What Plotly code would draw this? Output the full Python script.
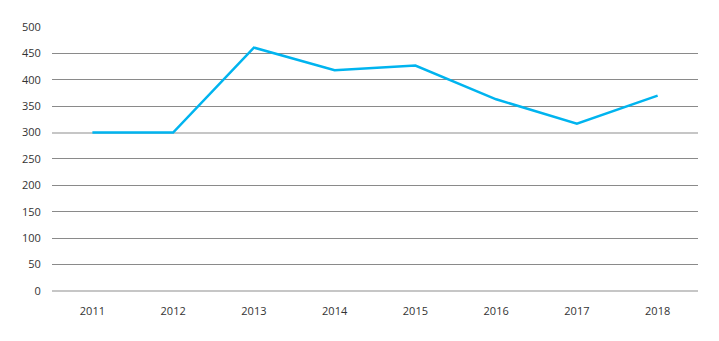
import plotly.graph_objects as go

years = ["2011", "2012", "2013", "2014", "2015", "2016", "2017", "2018"]
values = [300, 300, 461, 418, 427, 363, 317, 370]
y_ticks = [0, 50, 100, 150, 200, 250, 300, 350, 400, 450, 500]
light_lines = [0, 300]
y_range = [-2, 500]

fig = go.Figure()
# helper trace (invisible) so the overlay axis with the light reference lines is drawn
fig.add_trace(go.Scatter(
    x=years, y=values, mode="lines", yaxis="y2",
    line=dict(color="rgba(0,0,0,0)", width=0),
    hoverinfo="skip", showlegend=False,
))
fig.add_trace(go.Scatter(
    x=years, y=values, mode="lines",
    line=dict(color="#00b4ef", width=2.5),
    hoverinfo="x+y",
))

fig.update_layout(
    width=719, height=341,
    margin=dict(l=52, r=21, t=27, b=49),
    paper_bgcolor="white", plot_bgcolor="white",
    showlegend=False,
    font=dict(family="Open Sans, sans-serif", size=11, color="#333333"),
    xaxis=dict(
        type="category", range=[-0.5, 7.5],
        showgrid=False, zeroline=False, showline=False,
        ticks="outside", ticklen=9, tickcolor="rgba(0,0,0,0)",
        tickfont=dict(size=11, color="#333333"),
    ),
    yaxis=dict(
        range=y_range, tickvals=y_ticks,
        showgrid=True, gridcolor="#8a8a8a", gridwidth=1,
        zeroline=False, showline=False,
        ticks="outside", ticklen=8, tickcolor="rgba(0,0,0,0)",
        tickfont=dict(size=11, color="#333333"),
    ),
    yaxis2=dict(
        overlaying="y", side="right", range=y_range, tickvals=light_lines,
        showticklabels=False, ticks="", showgrid=True,
        gridcolor="#c6c6c6", gridwidth=2, zeroline=False, showline=False,
    ),
)

fig.write_html("out.html")
